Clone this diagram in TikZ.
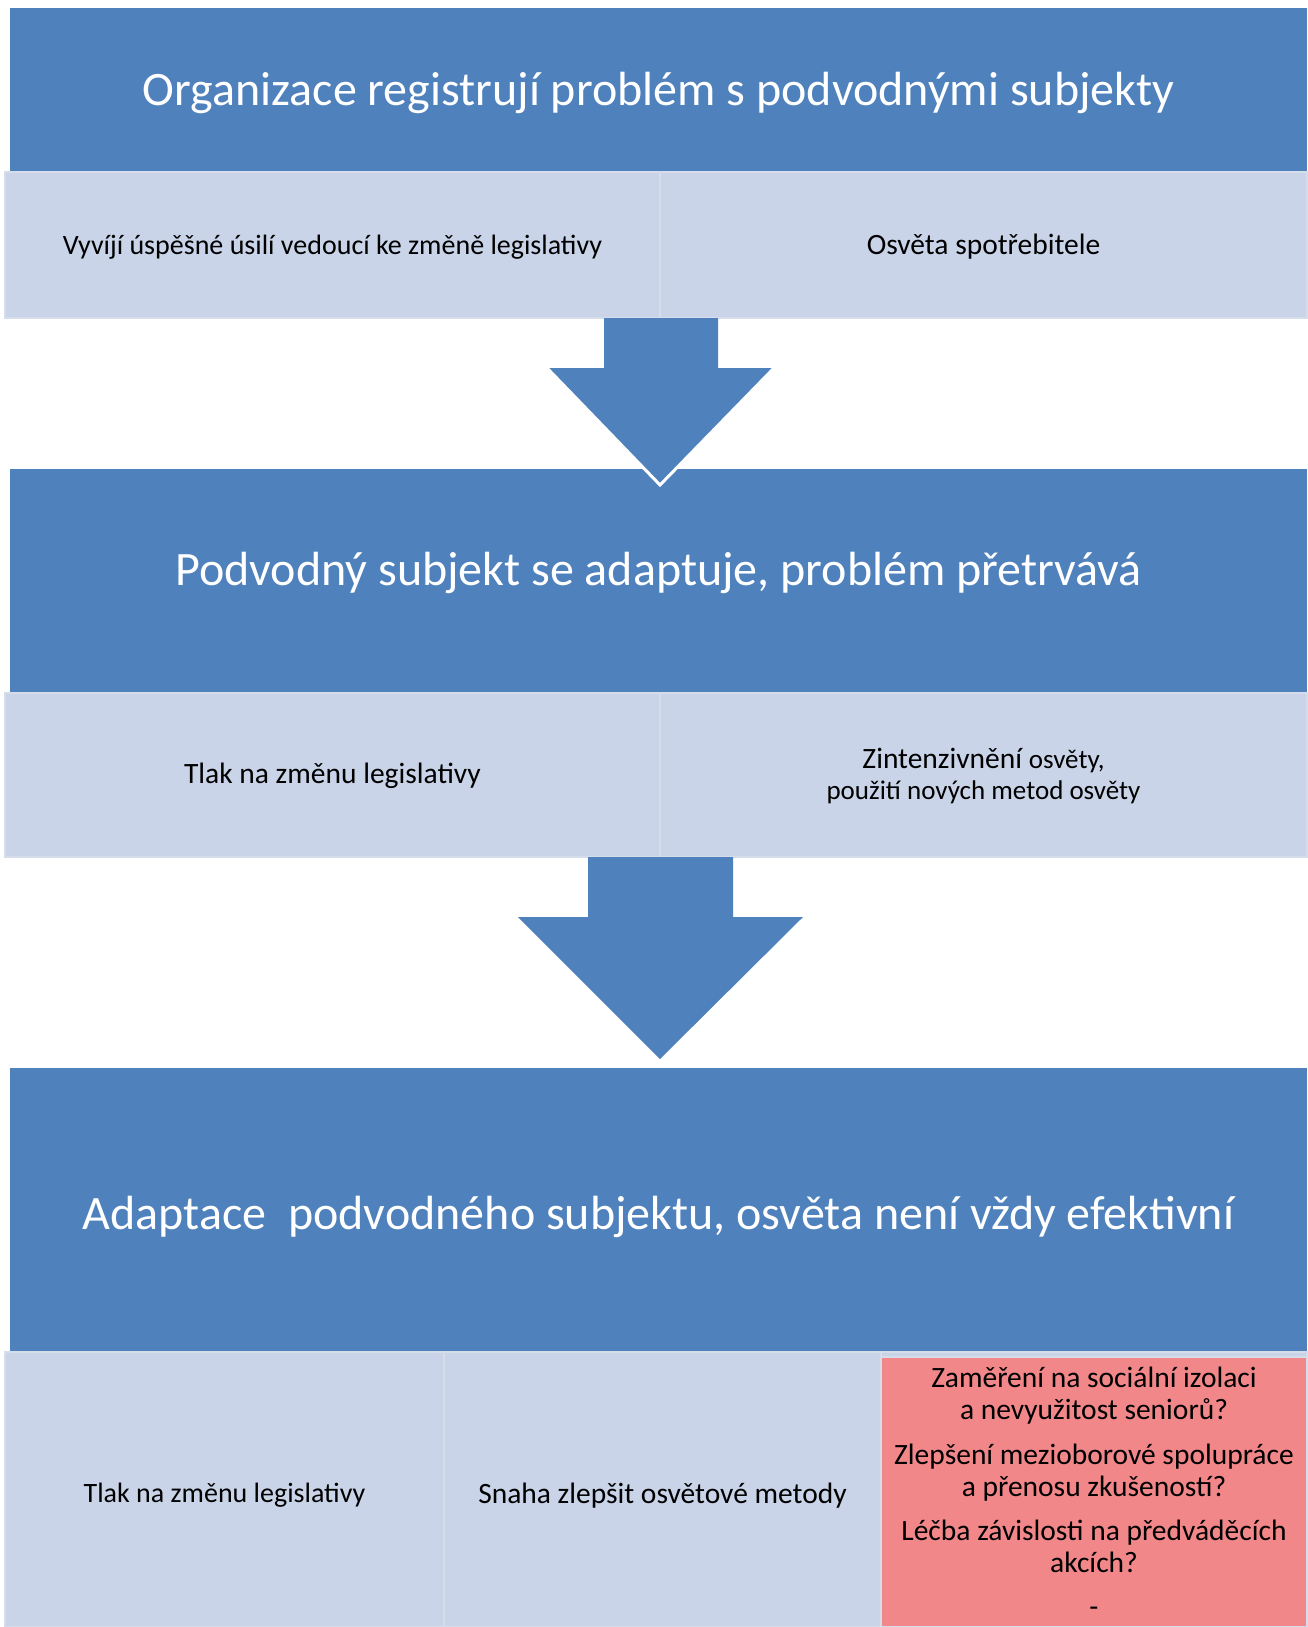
\documentclass[tikz,border=0pt]{standalone}
\usepackage{fontspec}
\setmainfont{Carlito}
\usetikzlibrary{calc}
\definecolor{hdr}{HTML}{4F81BD}
\definecolor{cell}{HTML}{C9D4E8}
\definecolor{cellborder}{HTML}{D5DDEB}
\definecolor{alert}{HTML}{F2878A}
\newcommand{\shiftdn}[2]{\raisebox{-#1}[\height][\depth]{#2}}
\begin{document}
\begin{tikzpicture}[x=1pt,y=-1pt,
  header/.style={fill=hdr, draw=none, text=white, inner sep=0pt, outer sep=0pt,
    font=\fontsize{48}{56}\selectfont},
  cellbox/.style={fill=cell, draw=cellborder, line width=2.5pt, inner sep=0pt, outer sep=0pt,
    align=center, font=\fontsize{29.5}{31}\selectfont},
  alertbox/.style={cellbox, fill=alert, font=\fontsize{29.5}{32}\selectfont},
  blockarrow/.style={fill=hdr, draw=none},
  tipedge/.style={draw=white, line width=3pt, line join=miter}]
\path[use as bounding box, fill=white] (0,0) rectangle (1307,1627);

% row 1
\node[header, minimum width=1297, minimum height=164] (b1) at (658.5,90)
  {\shiftdn{3pt}{Organizace registrují problém s podvodnými subjekty}};
\node[cellbox, minimum width=655, minimum height=146, font=\fontsize{28}{31}\selectfont] (c1a) at (332.5,245)
  {\shiftdn{2pt}{Vyvíjí úspěšné úsilí vedoucí ke změně legislativy}};
\node[cellbox, minimum width=647, minimum height=146] (c1b) at (983.5,245)
  {\shiftdn{2pt}{Osvěta spotřebitele}};

% row 2
\node[header, minimum width=1297, minimum height=224] (b2) at (658.5,581)
  {\shiftdn{-8pt}{Podvodný subjekt se adaptuje, problém přetrvává}};
\node[cellbox, minimum width=655, minimum height=164] (c2a) at (332.5,775)
  {\shiftdn{1pt}{Tlak na změnu legislativy}};
\node[cellbox, minimum width=647, minimum height=164] (c2b) at (983.5,775)
  {\shiftdn{3pt}{\begin{tabular}{@{}c@{}}Zintenzivnění {\fontsize{27}{31}\selectfont osvěty,}\\
   {\fontsize{27}{31}\selectfont použití nových metod osvěty}\end{tabular}}};

% arrow 1
\coordinate (a1) at (c1a.south east);
\fill[blockarrow] ($(a1)+(-56,0)$) -- ($(a1)+(58,0)$) -- ($(a1)+(58,50)$) -- ($(a1)+(114,50)$)
  -- ($(a1)+(0,167)$) -- ($(a1)+(-113,50)$) -- ($(a1)+(-56,50)$) -- cycle;
\draw[tipedge] ($(a1)+(114,50)$) -- ($(a1)+(0,167)$) -- ($(a1)+(-113,50)$);

% row 3
\node[header, minimum width=1297, minimum height=284] (b3) at (658.5,1210)
  {\shiftdn{7pt}{Adaptace\ \ podvodného subjektu, osvěta není vždy efektivní}};
\node[cellbox, minimum width=439, minimum height=275, font=\fontsize{28}{30}\selectfont] (c3a) at (224.5,1489.5)
  {\shiftdn{6pt}{Tlak na změnu legislativy}};
\node[cellbox, minimum width=437, minimum height=275] (c3b) at (662.5,1489.5)
  {\shiftdn{6pt}{Snaha zlepšit osvětové metody}};
\node[cellbox, minimum width=426, minimum height=275] (c3c) at (1094,1489.5) {};
\node[alertbox, minimum width=426, minimum height=270] (c3r) at (1094,1492)
  {Zaměření na sociální izolaci\\a nevyužitost seniorů?\\[12.5pt]
   Zlepšení mezioborové spolupráce\\a přenosu zkušeností?\\[12.5pt]
   Léčba závislosti na předváděcích\\akcích?\\[12pt]-};

% arrow 2
\coordinate (a2) at (c2a.south east);
\fill[blockarrow] ($(a2)+(-72,0)$) -- ($(a2)+(73,0)$) -- ($(a2)+(73,60)$) -- ($(a2)+(143,60)$)
  -- ($(a2)+(0,202)$) -- ($(a2)+(-142,60)$) -- ($(a2)+(-72,60)$) -- cycle;
\end{tikzpicture}
\end{document}
